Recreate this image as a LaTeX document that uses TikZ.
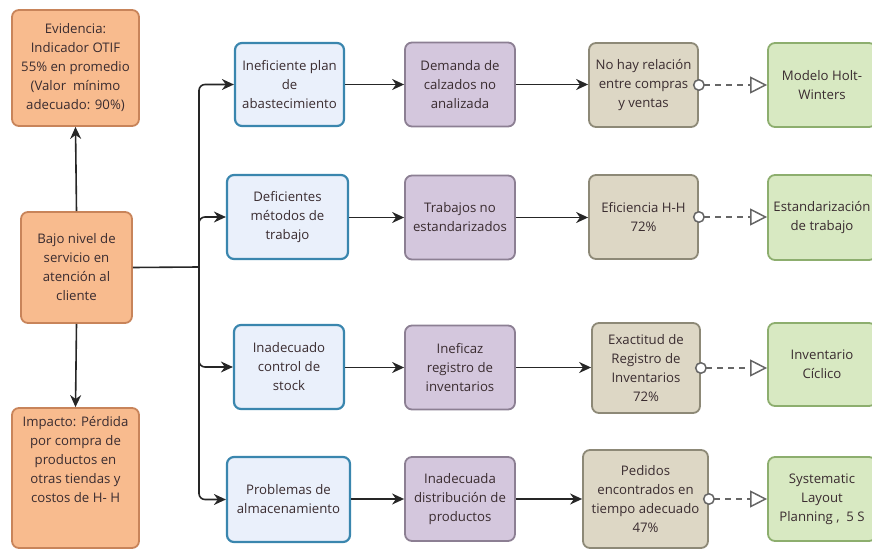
\documentclass[tikz,border=0pt]{standalone}
\usepackage{fontspec}
\setmainfont{Open Sans}
\usetikzlibrary{arrows.meta}

\definecolor{txt}{HTML}{3A2C30}
\definecolor{orfill}{HTML}{F8BB8E}\definecolor{ordraw}{HTML}{C8845A}
\definecolor{blfill}{HTML}{EAF0FB}\definecolor{bldraw}{HTML}{3A86AE}
\definecolor{pufill}{HTML}{D4C7DD}\definecolor{pudraw}{HTML}{8C7F93}
\definecolor{tafill}{HTML}{DDD7C5}\definecolor{tadraw}{HTML}{8D8977}
\definecolor{grfill}{HTML}{D8E9C2}\definecolor{grdraw}{HTML}{8DAE6E}

\begin{document}
\begin{tikzpicture}[x=1pt,y=-1pt,
    box/.style={rounded corners=7pt,line width=1.8pt,align=center,text=txt,
      font=\fontsize{13.2}{19}\selectfont,inner sep=2pt},
    orbox/.style={box,fill=orfill,draw=ordraw,minimum width=127pt},
    blbox/.style={box,fill=blfill,draw=bldraw,line width=2.2pt,minimum height=84pt},
    pubox/.style={box,fill=pufill,draw=pudraw,minimum width=110pt,minimum height=84pt},
    tabox/.style={box,fill=tafill,draw=tadraw},
    grbox/.style={box,fill=grfill,draw=grdraw,minimum width=108pt},
    arr/.style={-{Stealth[length=12pt,width=11pt]},line width=1.6pt,black!85},
    dashlink/.style={{Circle[open,length=12pt,width=12pt,fill=white]}-{Triangle[open,length=17pt,width=17pt,fill=white]},
      shorten <=-6pt,dash pattern=on 6pt off 5pt,line width=1.5pt,black!60}]
  \useasboundingbox (0,0) rectangle (872,553);

  % left column
  \node[orbox,minimum height=116pt] (evid) at (75.5,68)
    {Evidencia:\\Indicador OTIF\\55\% en promedio\\(Valor\ \ mínimo\\adecuado: 90\%)};
  \node[orbox,minimum width=111pt,minimum height=111pt] (bajo) at (76.5,267.5)
    {Bajo nivel de\\servicio en\\atención al\\cliente};
  \node[orbox,minimum height=140pt] (imp) at (75.5,478) {};
  \node[anchor=north,align=center,text=txt,font=\fontsize{13.2}{19}\selectfont] (imptxt)
    at ([yshift=-6pt]imp.north) {Impacto: Pérdida\\por compra de\\productos en\\otras tiendas y\\costos de H- H};
  \draw[arr] (bajo.north) -- (evid.south);
  \draw[arr] (bajo.south) -- (imp.north);

  % causes
  \node[blbox,minimum width=109pt,minimum height=83pt] (c1) at (289.5,84.5) {Ineficiente plan\\de\\abastecimiento};
  \node[blbox,minimum width=121pt] (c2) at (287.5,217) {Deficientes\\métodos de\\trabajo};
  \node[blbox,minimum width=110pt] (c3) at (289,367) {Inadecuado\\control de\\stock};
  \node[blbox,minimum width=123pt,minimum height=85pt] (c4) at (288.5,499.5) {Problemas de\\almacenamiento};

  \node[pubox] (p1) at (460,84.5) {Demanda de\\calzados no\\analizada};
  \node[pubox] (p2) at (460,217.5) {Trabajos no\\estandarizados};
  \node[pubox] (p3) at (460,367.5) {Ineficaz\\registro de\\inventarios};
  \node[pubox] (p4) at (460,499) {Inadecuada\\distribución de\\productos};

  \node[tabox,minimum width=109pt,minimum height=84pt] (t1) at (643.5,85) {No hay relación\\entre compras\\y ventas};
  \node[tabox,minimum width=109pt,minimum height=84pt] (t2) at (643.5,217) {Eficiencia H-H\\72\%};
  \node[tabox,minimum width=108pt,minimum height=90pt] (t3) at (646,368) {Exactitud de\\Registro de\\Inventarios\\72\%};
  \node[tabox,minimum width=125pt,minimum height=98pt] (t4) at (645.5,499) {Pedidos\\encontrados en\\tiempo adecuado\\47\%};

  \node[grbox,minimum height=84pt] (g1) at (822,85) {Modelo Holt-\\Winters};
  \node[grbox,minimum height=85pt] (g2) at (822,217.5) {Estandarización\\de trabajo};
  \node[grbox,minimum height=83pt] (g3) at (822,364.5) {Inventario\\Cíclico};
  \node[grbox,minimum height=84pt] (g4) at (822,499) {Systematic\\Layout\\Planning ,\ \ 5 S};

  % bus from the problem box to the four causes
  \coordinate (bus) at (199,267);
  \draw[line width=1.6pt,black!85] (bajo.east) -- (bus);
  \foreach \c in {c1,c2,c3,c4}
    \draw[arr,rounded corners=6pt] (bus) |- (\c.west);

  \foreach \i in {1,2,3,4} {
    \draw[arr] (c\i.east |- p\i) -- (p\i.west);
    \draw[arr] (p\i.east) -- (t\i.west |- p\i);
    \draw[dashlink] (t\i.east |- t\i) -- (g\i.west |- t\i);
  }
\end{tikzpicture}
\end{document}
